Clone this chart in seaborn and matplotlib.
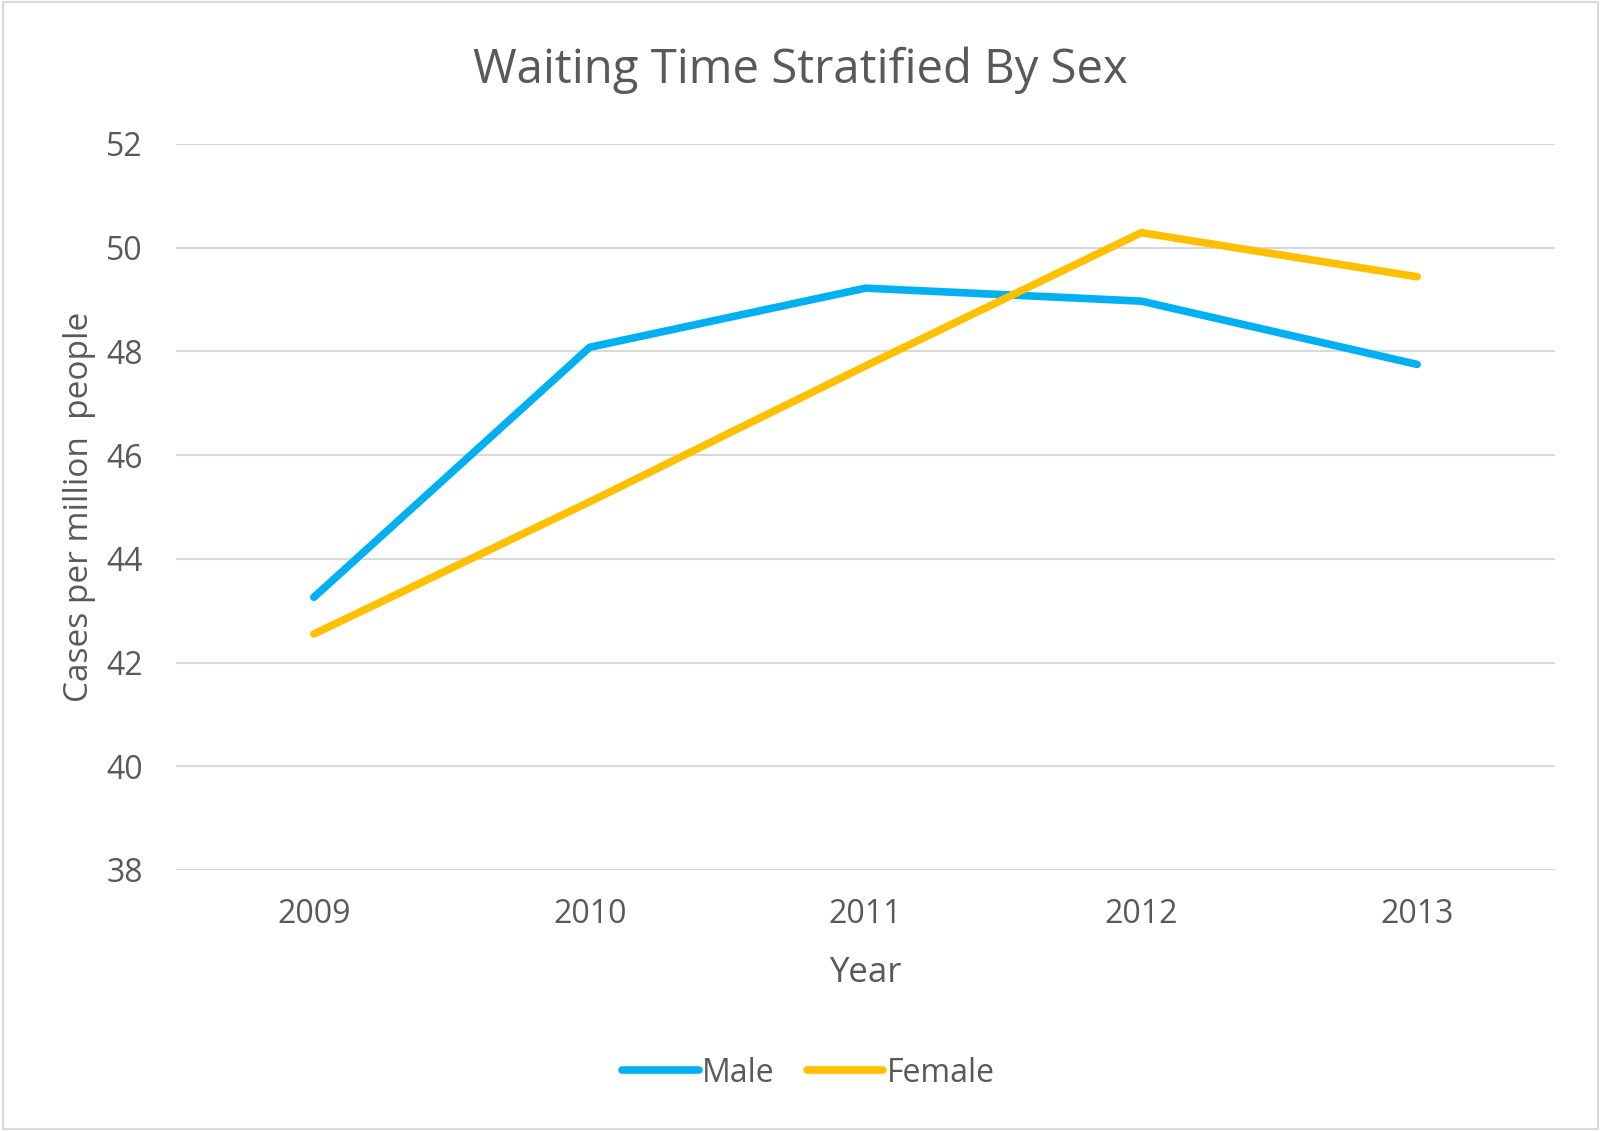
import pandas as pd
import matplotlib.pyplot as plt
import seaborn as sns

# Values
years = ['2009', '2010', '2011', '2012', '2013']
male = [43.26, 48.08, 49.22, 48.97, 47.75]
female = [42.55, 45.10, 47.72, 50.29, 49.44]

data = pd.DataFrame({
    'Year': years * 2,
    'Value': male + female,
    'Sex': ['Male'] * len(years) + ['Female'] * len(years),
})

sns.set_theme(style='white')
plt.rcParams['font.family'] = ['Open Sans', 'DejaVu Sans']
text_color = '#595959'

fig = plt.figure(figsize=(16.01, 11.31), dpi=100)
ax = fig.add_axes([176 / 1601, 1 - 870 / 1131, (1555 - 176) / 1601, (870 - 144) / 1131])

sns.lineplot(data=data, x='Year', y='Value', hue='Sex', sort=False,
             palette={'Male': '#00B0F0', 'Female': '#FFC000'},
             linewidth=5.5, solid_capstyle='round', ax=ax, legend=False)

ax.set_xlim(-0.5, len(years) - 0.5)
ax.set_ylim(38, 52)
ax.set_yticks(range(38, 53, 2))
ax.grid(axis='y', color='#d9d9d9', linewidth=1.5)
ax.set_axisbelow(True)
for s in ax.spines.values():
    s.set_visible(False)
ax.tick_params(axis='both', length=0, labelsize=23, labelcolor=text_color)
ax.tick_params(axis='x', pad=20)
ax.tick_params(axis='y', pad=24)

ax.set_xlabel('Year', fontsize=25, color=text_color, labelpad=18)
ax.set_ylabel('Cases per million  people', fontsize=24, color=text_color, labelpad=7)
fig.text(0.5, 1 - 70 / 1131, 'Waiting Time Stratified By Sex', ha='center', va='center',
         fontsize=34, color=text_color)

handles = [plt.Line2D([], [], color='#00B0F0', linewidth=5.5, solid_capstyle='round'),
           plt.Line2D([], [], color='#FFC000', linewidth=5.5, solid_capstyle='round')]
fig.legend(handles, ['Male', 'Female'], loc='center', bbox_to_anchor=(0.505, 1 - 1073 / 1131),
           ncol=2, frameon=False, fontsize=23, handlelength=2.4, handletextpad=0.1,
           columnspacing=1.0, labelcolor=text_color)

# Light outer border like the reference
fig.patches.append(plt.Rectangle((0.002, 0.002), 0.996, 0.996, transform=fig.transFigure,
                                 fill=False, edgecolor='#d9d9d9', linewidth=1.5))

fig.savefig('out.png', dpi=100)
